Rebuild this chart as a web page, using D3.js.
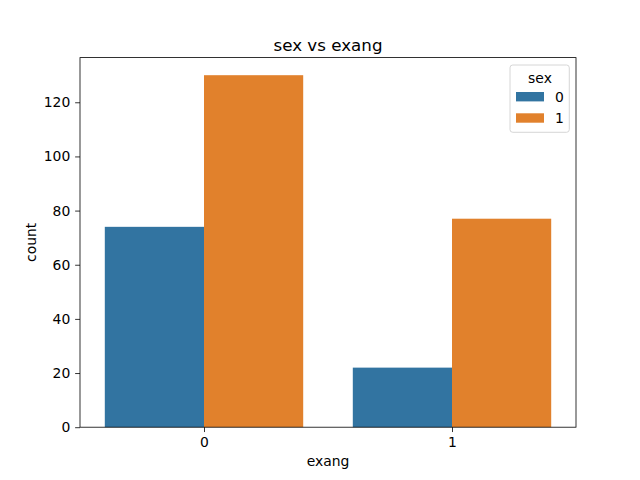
<!DOCTYPE html>
<html><head><meta charset="utf-8">
<script src="https://cdn.jsdelivr.net/npm/d3@7"></script>
<style>body{margin:0;background:#fff}svg{display:block;font-family:"DejaVu Sans",sans-serif}</style>
</head><body><svg id="c" width="640" height="480"></svg>
<script>
const categories = ["0","1"];
const hueLevels = ["0","1"];
const counts0 = [74, 22];   // sex = 0
const counts1 = [130, 77];  // sex = 1
const colors = ["#3274a1","#e1812c"];
const yTicks = [0,20,40,60,80,100,120];
const title = "sex vs exang", xLabel = "exang", yLabel = "count", legendTitle = "sex";

const svg = d3.select("#c");
const L=80, R=576, T=57.6, B=427.2;
const series=[counts0,counts1];
const ymax = d3.max(series.flat())*1.05;
const x = d3.scaleLinear().domain([-0.5, categories.length-0.5]).range([L,R]);
const y = d3.scaleLinear().domain([0,ymax]).range([B,T]);
const bw = 0.8/hueLevels.length;

series.forEach((s,j)=>{
  svg.append("g").selectAll("rect").data(s).join("rect")
    .attr("x",(d,i)=>x(i-0.4+j*bw))
    .attr("width",(d,i)=>x(i-0.4+(j+1)*bw)-x(i-0.4+j*bw))
    .attr("y",d=>y(d)).attr("height",d=>B-y(d))
    .attr("fill",colors[j]);
});

const xa = svg.append("g").attr("transform",`translate(0,${B})`)
  .call(d3.axisBottom(x).tickValues(categories.map((c,i)=>i)).tickFormat(i=>categories[i]).tickSize(4.86).tickPadding(4.86));
const ya = svg.append("g").attr("transform",`translate(${L},0)`)
  .call(d3.axisLeft(y).tickValues(yTicks).tickSize(4.86).tickPadding(4.86));
[xa,ya].forEach(a=>{a.select(".domain").remove();a.selectAll("text").attr("font-size","13.9px").attr("font-family","DejaVu Sans").attr("fill","#000");a.selectAll("line").attr("stroke","#000").attr("stroke-width",0.8);});

svg.append("rect").attr("x",L).attr("y",T).attr("width",R-L).attr("height",B-T)
  .attr("fill","none").attr("stroke","#000").attr("stroke-width",0.8);

svg.append("text").attr("x",(L+R)/2).attr("y",T-7).attr("text-anchor","middle").attr("font-size","16.7px").text(title);
svg.append("text").attr("x",(L+R)/2).attr("y",466).attr("text-anchor","middle").attr("font-size","13.9px").text(xLabel);
svg.append("text").attr("transform",`translate(36,${(T+B)/2}) rotate(-90)`).attr("text-anchor","middle").attr("font-size","13.9px").text(yLabel);

const lg = svg.append("g");
lg.append("rect").attr("x",510).attr("y",65).attr("width",59.3).attr("height",67.3).attr("rx",2.8)
  .attr("fill","#fff").attr("fill-opacity",0.8).attr("stroke","#cccccc").attr("stroke-width",0.8);
lg.append("text").attr("x",540).attr("y",82.5).attr("text-anchor","middle").attr("font-size","13.9px").text(legendTitle);
hueLevels.forEach((h,j)=>{
  const cy = 96.7 + j*21.3;
  lg.append("rect").attr("x",516).attr("y",cy-4.7).attr("width",28).attr("height",9.4).attr("fill",colors[j]);
  lg.append("text").attr("x",555).attr("y",cy+5).attr("font-size","13.9px").text(h);
});
</script></body></html>
